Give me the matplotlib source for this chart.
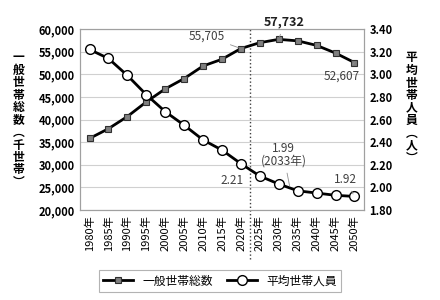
import matplotlib
matplotlib.use("Agg")
import matplotlib.pyplot as plt
from matplotlib.ticker import FuncFormatter

plt.rcParams['font.family'] = ['Noto Sans CJK JP', 'DejaVu Sans']

# data
years = ["1980年", "1985年", "1990年", "1995年", "2000年", "2005年", "2010年", "2015年",
         "2020年", "2025年", "2030年", "2035年", "2040年", "2045年", "2050年"]
households = [35824, 37980, 40670, 43900, 46782, 49063, 51842, 53332,
              55705, 57000, 57732, 57400, 56400, 54700, 52607]
avg_size = [3.22, 3.14, 2.99, 2.82, 2.67, 2.55, 2.42, 2.33,
            2.21, 2.10, 2.03, 1.97, 1.95, 1.93, 1.92]

x = list(range(len(years)))

fig = plt.figure(figsize=(4.4, 3.0), dpi=100)
ax = fig.add_axes([0.182, 0.30, 0.645, 0.603])
ax2 = ax.twinx()

ax.set_ylim(20000, 60000)
ax.set_yticks(range(20000, 60001, 5000))
ax.yaxis.set_major_formatter(FuncFormatter(lambda v, p: f"{int(v):,}"))
ax2.set_ylim(1.8, 3.4)
ax2.set_yticks([1.8 + 0.2 * i for i in range(9)])
ax2.yaxis.set_major_formatter(FuncFormatter(lambda v, p: f"{v:.2f}"))
ax.set_xlim(-0.5, len(years) - 0.5)
ax.set_xticks(x)
ax.set_xticklabels(years, rotation=90, fontsize=7.5)

ax.grid(axis='y', color='#d0d0d0', linewidth=0.8)
ax.set_axisbelow(True)
for a in (ax, ax2):
    for s in a.spines.values():
        s.set_color('#a0a0a0')
    a.tick_params(length=0, labelsize=8, pad=4)
    for t in a.get_yticklabels():
        t.set_fontweight('bold')

# households (left axis)
l1, = ax.plot(x, households, color='black', linewidth=2, marker='s', markersize=5,
              markerfacecolor='#808080', markeredgecolor='#303030', markeredgewidth=0.8,
              label='一般世帯総数', zorder=3)
# average size (right axis)
l2, = ax2.plot(x, avg_size, color='black', linewidth=2, marker='o', markersize=7,
               markerfacecolor='white', markeredgecolor='black', markeredgewidth=1.0,
               label='平均世帯人員', zorder=3)

# divider between actual and projected
ax.axvline(8.5, ymin=-0.27, ymax=1.0, color='#404040', linestyle=':', linewidth=1,
           clip_on=False)

gray = '#404040'
ax.annotate("55,705", xy=(8, households[8]), xytext=(6.2, 58400), fontsize=8.5,
            color=gray, ha='center', va='center',
            arrowprops=dict(arrowstyle='-', color='#909090', lw=0.6))
ax.annotate("57,732", xy=(10, households[10]), xytext=(10.3, 61500), fontsize=9,
            fontweight='bold', color='#202020', ha='center', va='center',
            annotation_clip=False,
            arrowprops=dict(arrowstyle='-', color='#909090', lw=0.6))
ax.annotate("52,607", xy=(14, households[14]), xytext=(13.35, 49700), fontsize=8.5,
            color=gray, ha='center', va='center',
            arrowprops=dict(arrowstyle='-', color='#909090', lw=0.6))
ax2.text(7.55, 2.06, "2.21", fontsize=8.5, color=gray, ha='center', va='center')
ax2.annotate("1.99\n(2033年)", xy=(10.6, 1.99), xytext=(10.25, 2.29), fontsize=8.5,
             color=gray, ha='center', va='center', linespacing=1.0,
             arrowprops=dict(arrowstyle='-', color='#909090', lw=0.6))
ax2.annotate("1.92", xy=(14, avg_size[14]), xytext=(13.5, 2.07), fontsize=8.5,
             color=gray, ha='center', va='center',
             arrowprops=dict(arrowstyle='-', color='#909090', lw=0.6))

# vertical axis titles (stacked characters)
left_title = "一般世帯総数︵千世帯︶"
right_title = "平均世帯人員︵人︶"
fig.text(0.042, 0.60, "\n".join(left_title), fontsize=8.5, fontweight='bold',
         ha='center', va='center', linespacing=0.95)
fig.text(0.935, 0.64, "\n".join(right_title), fontsize=8.5, fontweight='bold',
         ha='center', va='center', linespacing=0.95)

leg = fig.legend(handles=[l1, l2], loc='center', bbox_to_anchor=(0.50, 0.063), ncol=2,
                 fontsize=8.5, frameon=True, fancybox=False, edgecolor='#a0a0a0',
                 handlelength=2.5, columnspacing=1.2, borderpad=0.4)
leg.get_frame().set_linewidth(0.8)

fig.savefig("out.png", dpi=100)
